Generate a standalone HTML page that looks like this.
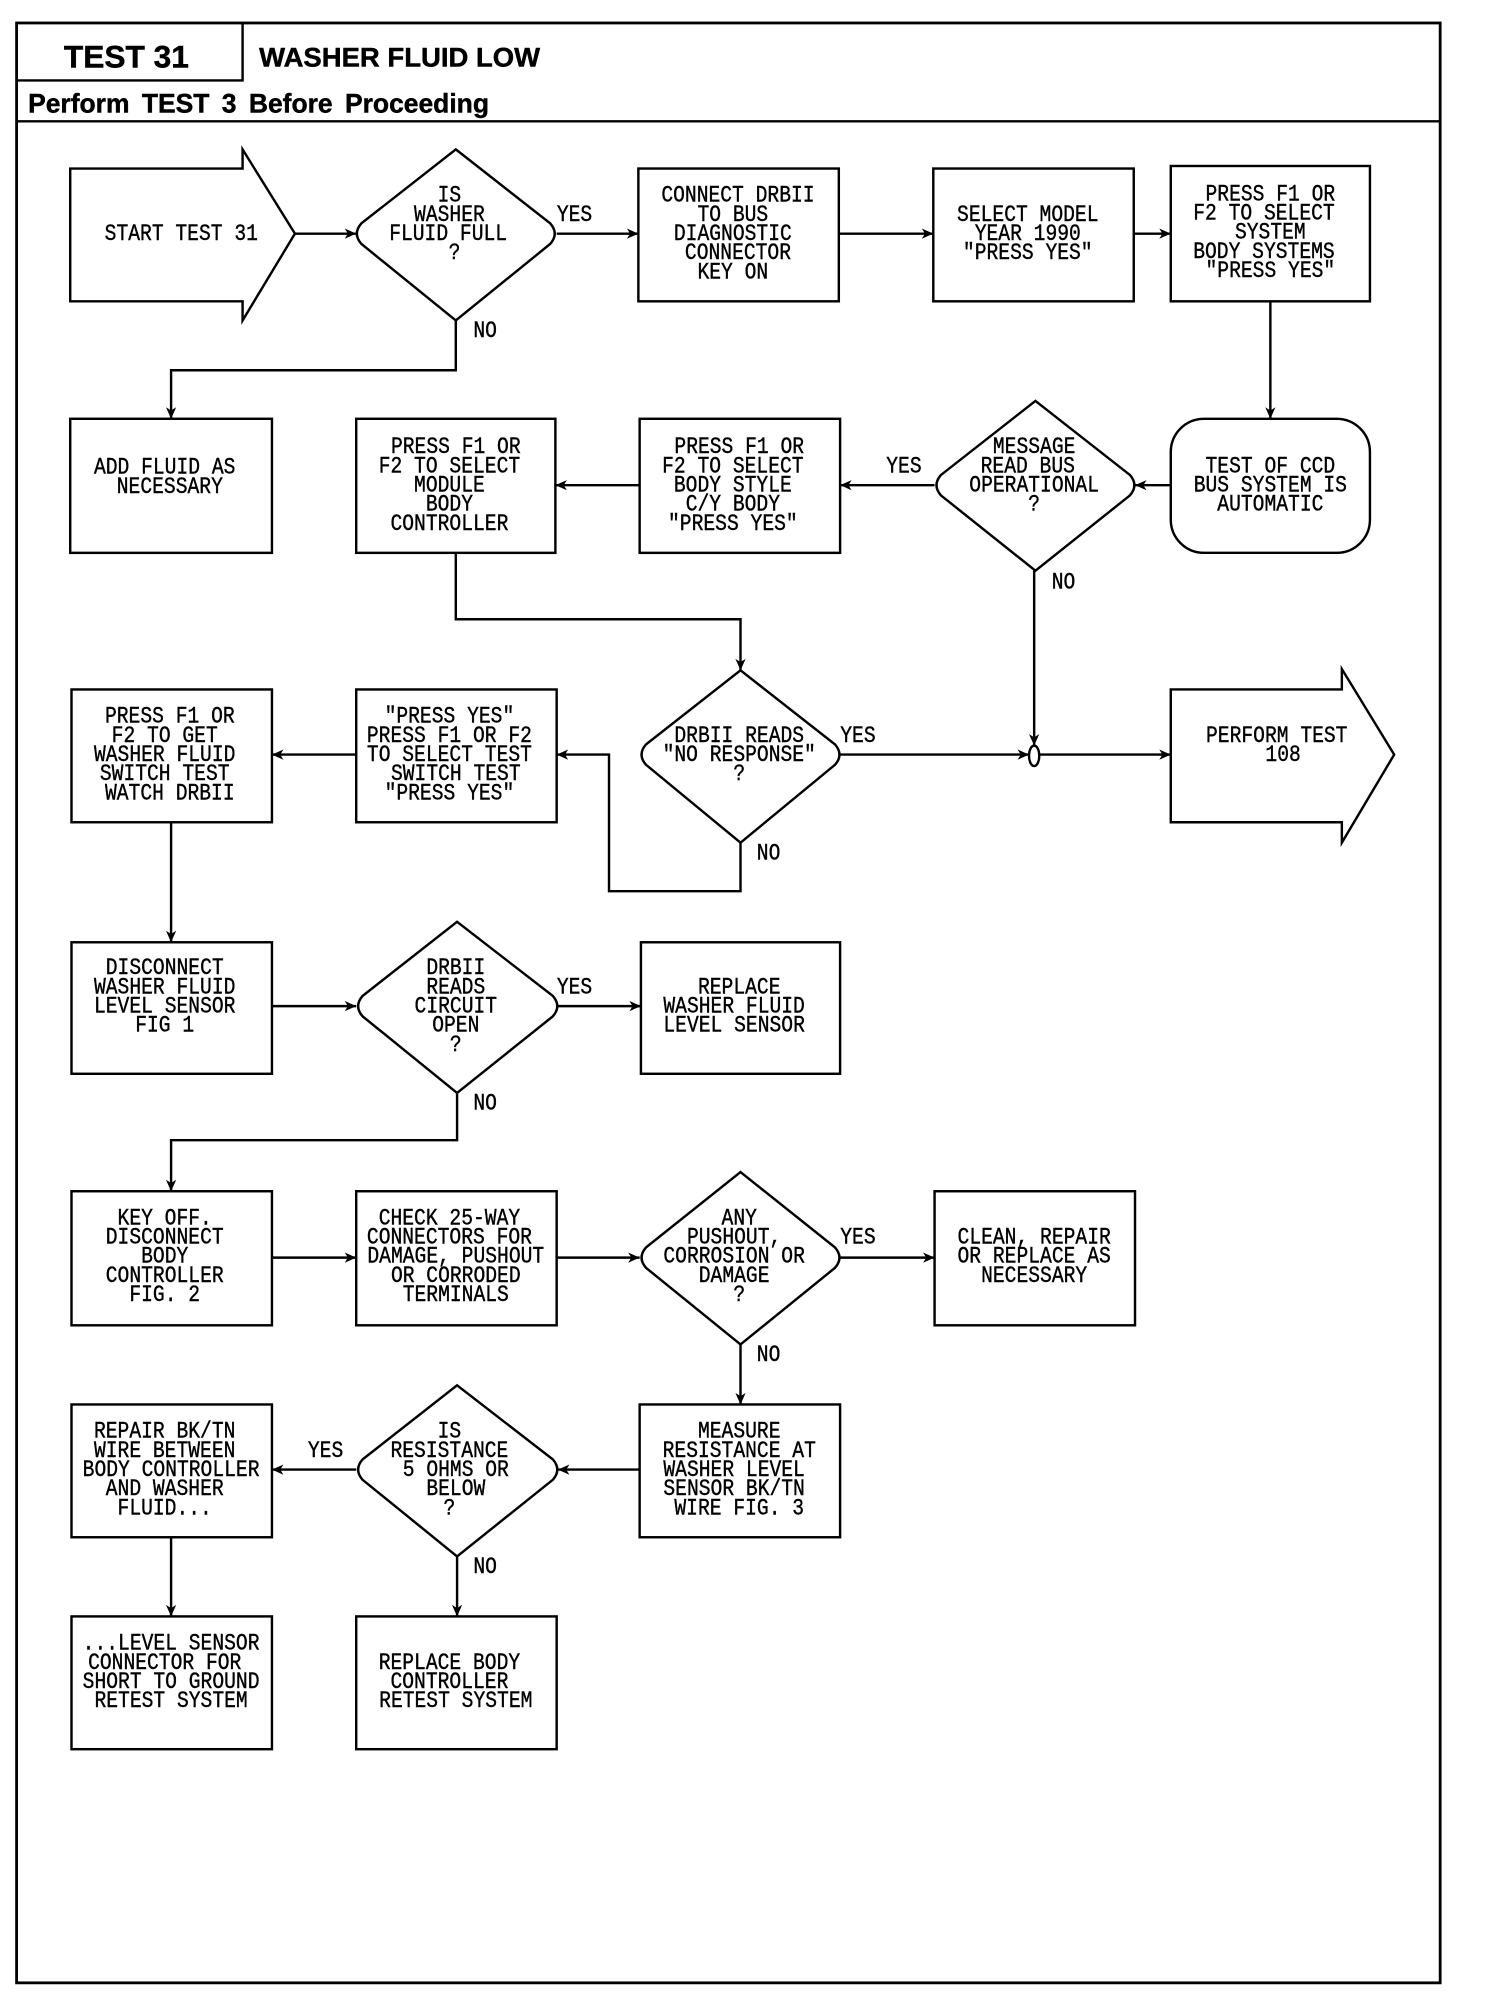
<!DOCTYPE html>
<html><head><meta charset="utf-8"><title>TEST 31 WASHER FLUID LOW</title>
<style>
html,body{margin:0;padding:0;background:#fff}
svg{display:block;width:1504px;height:2002px}
.t text{font-family:"Liberation Mono",monospace;font-size:18px;fill:#000;text-anchor:middle;stroke:#000;stroke-width:.3;transform-box:fill-box;transform-origin:center;transform:scaleX(.855)}
.h{font-family:"Liberation Sans",sans-serif;font-weight:bold;fill:#000;stroke:#000;stroke-width:.35}
.s{fill:#fff;stroke:#000;stroke-width:1.9;stroke-linejoin:miter}
.c{fill:none;stroke:#000;stroke-width:1.9}
</style></head><body>
<svg viewBox="0 0 1178 1568" preserveAspectRatio="none" xmlns="http://www.w3.org/2000/svg">
<defs><marker id="a" markerUnits="userSpaceOnUse" markerWidth="12" markerHeight="12" refX="10" refY="6" orient="auto"><path d="M1,2 L10,6 L1,10 L3.5,6 z" fill="#000"/></marker></defs>
<rect width="1178" height="1568" fill="#fff"/>
<!-- frame -->
<rect x="13" y="18" width="1115" height="1535" fill="none" stroke="#000" stroke-width="2.2"/>
<path class="c" d="M13,63 H190 V18 M13,95 H1128" stroke-width="2.2"/>
<text class="h" x="50" y="53" font-size="25" textLength="98" lengthAdjust="spacingAndGlyphs">TEST 31</text>
<text class="h" x="203" y="52" font-size="21" textLength="220" lengthAdjust="spacingAndGlyphs">WASHER FLUID LOW</text>
<text class="h" x="22" y="88" font-size="21" word-spacing="4" textLength="361" lengthAdjust="spacingAndGlyphs">Perform TEST 3 Before Proceeding</text>
<!-- connectors -->
<g class="c">
<path class="c" marker-end="url(#a)" d="M231,183H279"/>
<path class="c" marker-end="url(#a)" d="M436,183H500"/>
<path class="c" marker-end="url(#a)" d="M657,183H731"/>
<path class="c" marker-end="url(#a)" d="M888,183H917"/>
<path class="c" marker-end="url(#a)" d="M995,236V328"/>
<path class="c" marker-end="url(#a)" d="M917,380H889"/>
<path class="c" marker-end="url(#a)" d="M732,380H658"/>
<path class="c" marker-end="url(#a)" d="M501,380H435"/>
<path class="c" marker-end="url(#a)" d="M357,251V290H134V328"/>
<path class="c" marker-end="url(#a)" d="M357,433V485H580V525"/>
<path class="c" marker-end="url(#a)" d="M810,447V584"/>
<path class="c" marker-end="url(#a)" d="M658,591H806"/>
<path class="c" marker-end="url(#a)" d="M814,591H917"/>
<path class="c" marker-end="url(#a)" d="M580,660V698H477V591H436"/>
<path class="c" marker-end="url(#a)" d="M279,591H213"/>
<path class="c" marker-end="url(#a)" d="M134,644V738"/>
<path class="c" marker-end="url(#a)" d="M213,788H279"/>
<path class="c" marker-end="url(#a)" d="M437,788H502"/>
<path class="c" marker-end="url(#a)" d="M358,856V893H134V933"/>
<path class="c" marker-end="url(#a)" d="M213,985H279"/>
<path class="c" marker-end="url(#a)" d="M436,985H501"/>
<path class="c" marker-end="url(#a)" d="M658,985H732"/>
<path class="c" marker-end="url(#a)" d="M580,1053V1100"/>
<path class="c" marker-end="url(#a)" d="M501,1151H437"/>
<path class="c" marker-end="url(#a)" d="M279,1151H213"/>
<path class="c" marker-end="url(#a)" d="M134,1204V1266"/>
<path class="c" marker-end="url(#a)" d="M358,1219V1266"/>
</g>
<ellipse cx="810" cy="592" rx="4" ry="8" class="s"/>
<!-- shapes -->
<path class="s" d="M55,132H190V117L231,183L190,251V236H55Z"/>
<path class="s" d="M917,540H1051V524L1092,591L1051,660V644H917Z"/>
<path class="s" d="M357,117L431,175Q438,183 431,191L357,251L283,191Q276,183 283,175Z"/>
<path class="s" d="M811,314L885,372Q892,380 885,388L811,447L737,388Q730,380 737,372Z"/>
<path class="s" d="M580,525L654,583Q661,591 654,599L580,660L506,599Q499,591 506,583Z"/>
<path class="s" d="M358,722L433,780Q440,788 433,796L358,856L284,796Q277,788 284,780Z"/>
<path class="s" d="M580,918L654,977Q661,985 654,993L580,1053L506,993Q499,985 506,977Z"/>
<path class="s" d="M358,1085L433,1143Q440,1151 433,1159L358,1219L284,1159Q277,1151 284,1143Z"/>
<rect class="s" x="500" y="132" width="157" height="104"/>
<rect class="s" x="731" y="132" width="157" height="104"/>
<rect class="s" x="917" y="130" width="156" height="106"/>
<rect class="s" x="55" y="328" width="158" height="105"/>
<rect class="s" x="279" y="328" width="156" height="105"/>
<rect class="s" x="501" y="328" width="157" height="105"/>
<rect class="s" x="917" y="328" width="156" height="105" rx="26"/>
<rect class="s" x="56" y="540" width="157" height="104"/>
<rect class="s" x="279" y="540" width="157" height="104"/>
<rect class="s" x="56" y="738" width="157" height="103"/>
<rect class="s" x="502" y="738" width="156" height="103"/>
<rect class="s" x="56" y="933" width="157" height="105"/>
<rect class="s" x="279" y="933" width="157" height="105"/>
<rect class="s" x="732" y="933" width="157" height="105"/>
<rect class="s" x="56" y="1100" width="157" height="104"/>
<rect class="s" x="501" y="1100" width="157" height="104"/>
<rect class="s" x="56" y="1266" width="157" height="104"/>
<rect class="s" x="279" y="1266" width="157" height="104"/>
<!-- labels -->
<g class="t" transform="translate(0,6)">
<text x="142" y="182">START TEST 31</text>
<text x="352" y="152">IS</text><text x="352" y="167">WASHER</text><text x="351" y="182">FLUID FULL</text><text x="356" y="197">?</text>
<text x="450" y="167">YES</text><text x="380" y="258">NO</text>
<text x="578" y="152">CONNECT DRBII</text><text x="574" y="167">TO BUS</text><text x="574" y="182">DIAGNOSTIC</text><text x="578" y="197">CONNECTOR</text><text x="574" y="212">KEY ON</text>
<text x="805" y="167">SELECT MODEL</text><text x="805" y="182">YEAR 1990</text><text x="805" y="197">"PRESS YES"</text>
<text x="995" y="151">PRESS F1 OR</text><text x="990" y="166">F2 TO SELECT</text><text x="995" y="181">SYSTEM</text><text x="990" y="196">BODY SYSTEMS</text><text x="995" y="211">"PRESS YES"</text>
<text x="129" y="365">ADD FLUID AS</text><text x="133" y="380">NECESSARY</text>
<text x="357" y="349">PRESS F1 OR</text><text x="352" y="364">F2 TO SELECT</text><text x="352" y="379">MODULE</text><text x="352" y="394">BODY</text><text x="352" y="409">CONTROLLER</text>
<text x="579" y="349">PRESS F1 OR</text><text x="574" y="364">F2 TO SELECT</text><text x="574" y="379">BODY STYLE</text><text x="574" y="394">C/Y BODY</text><text x="574" y="409">"PRESS YES"</text>
<text x="708" y="364">YES</text>
<text x="810" y="349">MESSAGE</text><text x="805" y="364">READ BUS</text><text x="810" y="379">OPERATIONAL</text><text x="810" y="394">?</text>
<text x="833" y="455">NO</text>
<text x="995" y="364">TEST OF CCD</text><text x="995" y="379">BUS SYSTEM IS</text><text x="995" y="394">AUTOMATIC</text>
<text x="133" y="560">PRESS F1 OR</text><text x="129" y="575">F2 TO GET</text><text x="129" y="590">WASHER FLUID</text><text x="129" y="605">SWITCH TEST</text><text x="133" y="620">WATCH DRBII</text>
<text x="352" y="560">"PRESS YES"</text><text x="352" y="575">PRESS F1 OR F2</text><text x="352" y="590">TO SELECT TEST</text><text x="357" y="605">SWITCH TEST</text><text x="352" y="620">"PRESS YES"</text>
<text x="579" y="575">DRBII READS</text><text x="579" y="590">"NO RESPONSE"</text><text x="579" y="605">?</text>
<text x="672" y="575">YES</text><text x="602" y="667">NO</text>
<text x="1000" y="575">PERFORM TEST</text><text x="1005" y="590">108</text>
<text x="129" y="757">DISCONNECT</text><text x="129" y="772">WASHER FLUID</text><text x="129" y="787">LEVEL SENSOR</text><text x="129" y="802">FIG 1</text>
<text x="357" y="757">DRBII</text><text x="357" y="772">READS</text><text x="357" y="787">CIRCUIT</text><text x="357" y="802">OPEN</text><text x="357" y="817">?</text>
<text x="450" y="772">YES</text><text x="380" y="863">NO</text>
<text x="579" y="772">REPLACE</text><text x="575" y="787">WASHER FLUID</text><text x="575" y="802">LEVEL SENSOR</text>
<text x="129" y="953">KEY OFF.</text><text x="129" y="968">DISCONNECT</text><text x="129" y="983">BODY</text><text x="129" y="998">CONTROLLER</text><text x="129" y="1013">FIG. 2</text>
<text x="352" y="953">CHECK 25-WAY</text><text x="352" y="968">CONNECTORS FOR</text><text x="357" y="983">DAMAGE, PUSHOUT</text><text x="357" y="998">OR CORRODED</text><text x="357" y="1013">TERMINALS</text>
<text x="579" y="953">ANY</text><text x="575" y="968">PUSHOUT,</text><text x="575" y="983">CORROSION OR</text><text x="575" y="998">DAMAGE</text><text x="579" y="1013">?</text>
<text x="672" y="968">YES</text><text x="602" y="1060">NO</text>
<text x="810" y="968">CLEAN, REPAIR</text><text x="810" y="983">OR REPLACE AS</text><text x="810" y="998">NECESSARY</text>
<text x="129" y="1120">REPAIR BK/TN</text><text x="129" y="1135">WIRE BETWEEN</text><text x="134" y="1150">BODY CONTROLLER</text><text x="129" y="1165">AND WASHER</text><text x="129" y="1180">FLUID...</text>
<text x="352" y="1120">IS</text><text x="352" y="1135">RESISTANCE</text><text x="357" y="1150">5 OHMS OR</text><text x="357" y="1165">BELOW</text><text x="352" y="1180">?</text>
<text x="255" y="1135">YES</text><text x="380" y="1226">NO</text>
<text x="579" y="1120">MEASURE</text><text x="579" y="1135">RESISTANCE AT</text><text x="575" y="1150">WASHER LEVEL</text><text x="575" y="1165">SENSOR BK/TN</text><text x="579" y="1180">WIRE FIG. 3</text>
<text x="134" y="1286">...LEVEL SENSOR</text><text x="129" y="1301">CONNECTOR FOR</text><text x="134" y="1316">SHORT TO GROUND</text><text x="134" y="1331">RETEST SYSTEM</text>
<text x="352" y="1301">REPLACE BODY</text><text x="352" y="1316">CONTROLLER</text><text x="357" y="1331">RETEST SYSTEM</text>
</g>
</svg>
</body></html>
